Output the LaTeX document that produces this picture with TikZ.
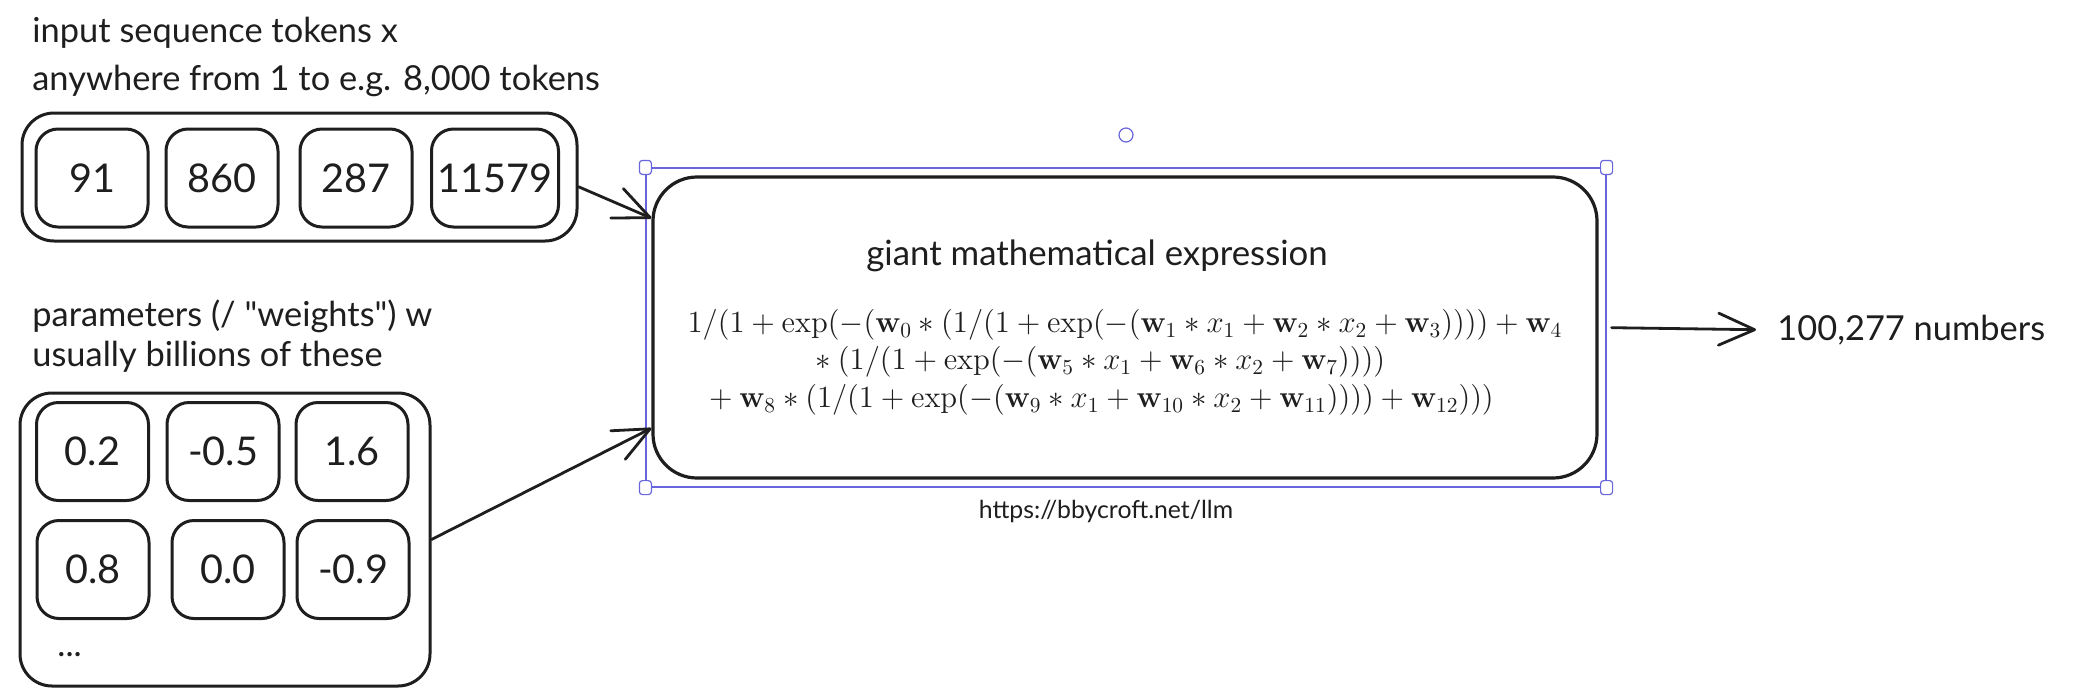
\documentclass[tikz,border=0pt]{standalone}
\usepackage{amsmath}
\usepackage{graphicx}
\usepackage[no-math]{fontspec}
\setmainfont{Lato}[Ligatures=TeXOff]
\usetikzlibrary{arrows.meta}
\definecolor{ink}{HTML}{1E1E1E}
\definecolor{selblue}{HTML}{6965DB}
\newcommand{\bigmath}[1]{\scalebox{1.07}{$#1$}}
\tikzset{
  cell/.style={draw=ink, line width=1.5pt, rounded corners=11pt, minimum width=56pt, minimum height=49pt, inner sep=0pt, text=ink, font=\fontsize{19.8}{22}\selectfont},
  holder/.style={draw=ink, line width=1.5pt, rounded corners=16pt, inner sep=0pt},
  lbl/.style={anchor=west, inner sep=0pt, text=ink, font=\fontsize{17.2}{20}\selectfont},
  mathln/.style={inner sep=0pt, text=ink, font=\fontsize{14.4}{17}\selectfont},
  flow/.style={draw=ink, line width=1.4pt, line cap=round, -{Straight Barb[length=18pt,width=16pt,round]}},
  handle/.style={draw=selblue, fill=white, line width=0.6pt, rounded corners=1.5pt, minimum width=6pt, minimum height=7pt, inner sep=0pt},
}
\begin{document}
\begin{tikzpicture}[x=0.5pt,y=-0.5pt]
\fill[white] (0,0) rectangle (2074,692);
\useasboundingbox (0,0) rectangle (2074,692);
% input tokens
\node[lbl] (intitle) at (32,33) {input sequence tokens x};
\node[lbl] (insub) at (32,81) {anywhere from 1 to e.g. 8,000 tokens};
\node[holder, minimum width=277.5pt, minimum height=64pt] (tokens) at (299.5,177) {};
\foreach \t/\cx/\w in {91/92/56pt, 860/222/56pt, 287/356/56pt, 11579/495/63.5pt}
  \node[cell, minimum width=\w] (tok\t) at (\cx,178) {\t};
% parameters
\node[lbl] (wtitle) at (32,316) {parameters (/ "weights") w};
\node[lbl] (wsub) at (32,357) {usually billions of these};
\node[holder, minimum width=205pt, minimum height=146.5pt] (params) at (225,539.5) {};
\foreach \v/\cx/\cy [count=\i] in {0.2/92.5/451.5, -0.5/223/451.5, 1.6/352/451.5, 0.8/93/569.5, 0.0/228/569.5, -0.9/353/569.5}
  \node[cell] (w\i) at (\cx,\cy) {\v};
\node[lbl] (more) at (57,655) {...};
% the expression
\node[draw=ink, line width=1.6pt, rounded corners=22pt, minimum width=472pt, minimum height=150.5pt] (expr) at (1125,327.5) {};
\node[draw=selblue, line width=0.6pt, minimum width=480pt, minimum height=159.5pt] (sel) at (1126,327.5) {};
\foreach \c in {north west, north east, south west, south east}
  \node[handle] at (sel.\c) {};
\node[draw=selblue, line width=0.6pt, circle, minimum size=7pt, inner sep=0pt] (rot) at (1126,135) {};
\node[inner sep=0pt, text=ink, font=\fontsize{17.4}{20}\selectfont] (title) at (1097,256) {giant mathematical expression};
\node[mathln] (m1) at (1125,325) {\bigmath{1/(1+\exp(-(\mathbf{w}_0*(1/(1+\exp(-(\mathbf{w}_1*x_1+\mathbf{w}_2*x_2+\mathbf{w}_3))))+\mathbf{w}_4}};
\node[mathln] (m2) at (1097,362) {\bigmath{{}*(1/(1+\exp(-(\mathbf{w}_5*x_1+\mathbf{w}_6*x_2+\mathbf{w}_7))))}};
\node[mathln] (m3) at (1098,400) {\bigmath{{}+\mathbf{w}_8*(1/(1+\exp(-(\mathbf{w}_9*x_1+\mathbf{w}_{10}*x_2+\mathbf{w}_{11}))))+\mathbf{w}_{12})))}};
\node[inner sep=0pt, text=ink, font=\fontsize{12.4}{14}\selectfont] (url) at (1106,511) {https://bbycroft.net/llm};
% output
\node[lbl] (out) at (1777,330) {100,277 numbers};
\draw[flow] (tokens.-2) -- (expr.167.5);
\draw[flow] (params.east) -- (expr.192.5);
\draw[flow, shorten <=6.5pt, shorten >=10.5pt] (expr.east) -- (out.west);
\end{tikzpicture}
\end{document}
